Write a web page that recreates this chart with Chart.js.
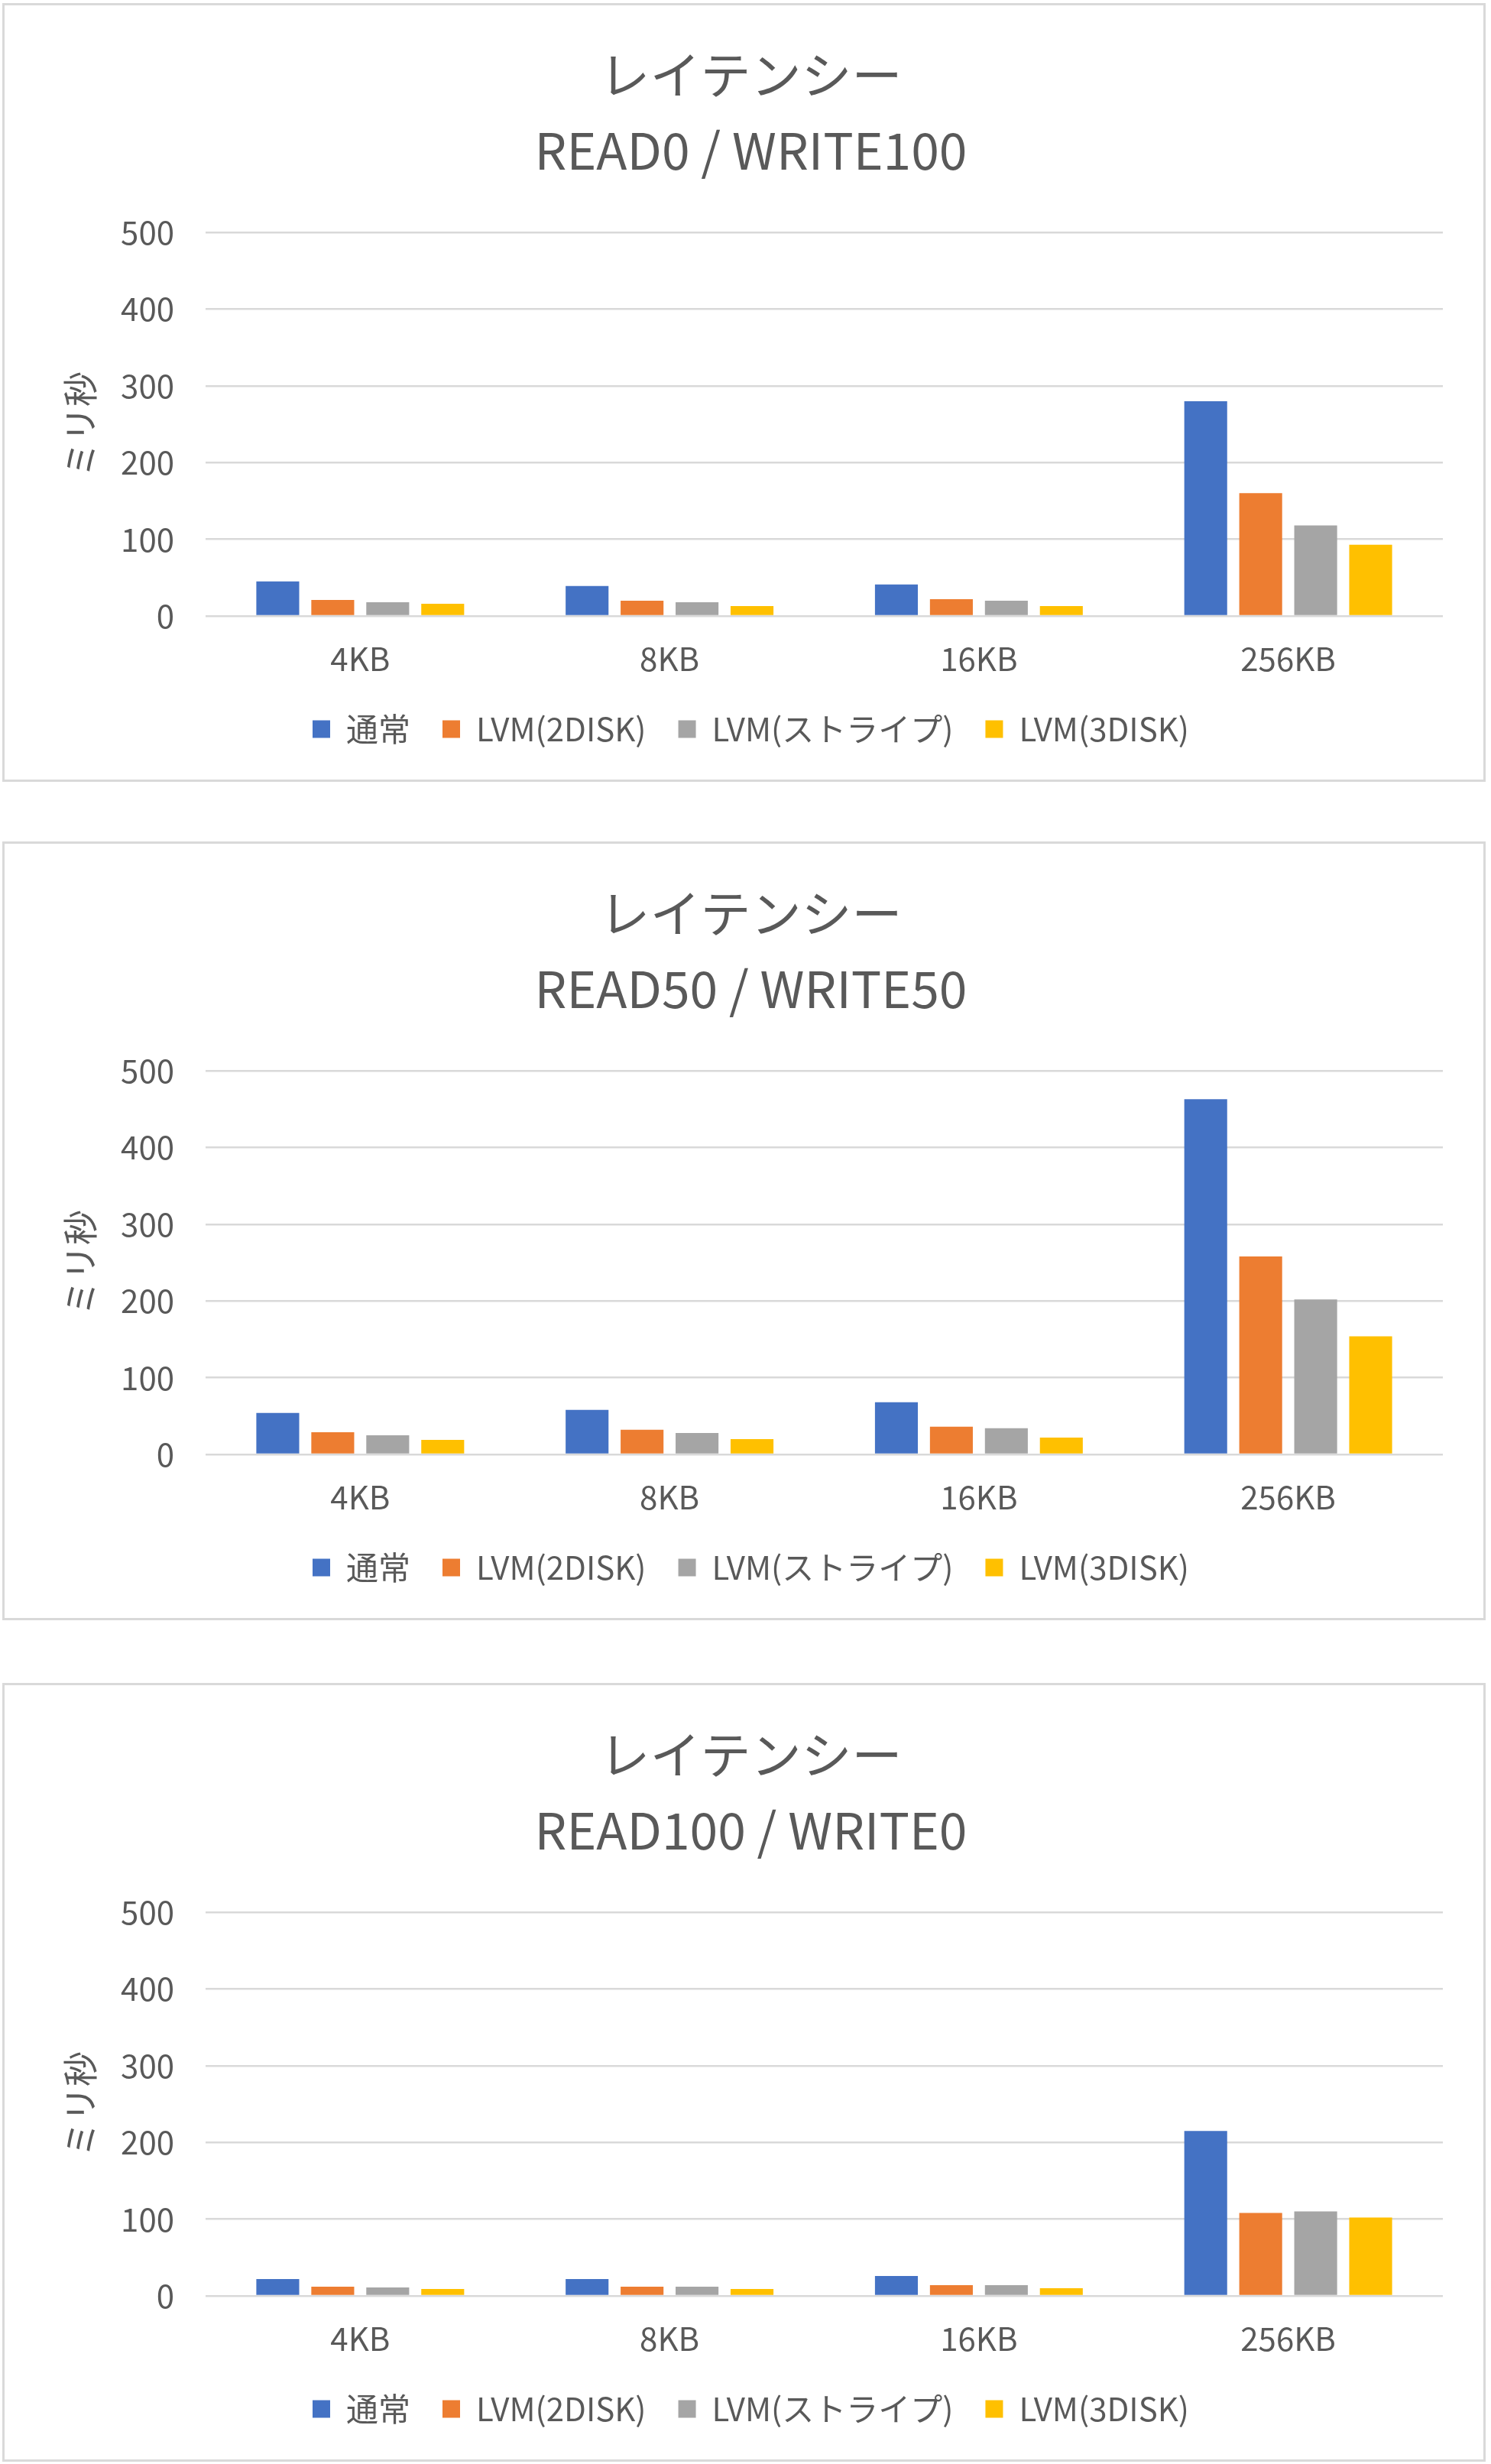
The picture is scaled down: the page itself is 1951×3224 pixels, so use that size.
<!DOCTYPE html>
<html>
<head>
<meta charset="utf-8">
<script src="https://cdn.jsdelivr.net/npm/chart.js@4"></script>
<style>
  body { margin: 0; background: #fff; width: 1951px; height: 3224px; position: relative; }
  .box { position: absolute; left: 3px; width: 1935px; height: 1013px; border: 3px solid #d9d9d9; background: #fff; }
  canvas { display: block; }
</style>
</head>
<body>
<div class="box" style="top:4px"><canvas id="c1" width="1935" height="1013"></canvas></div>
<div class="box" style="top:1101px"><canvas id="c2" width="1935" height="1013"></canvas></div>
<div class="box" style="top:2202px"><canvas id="c3" width="1935" height="1013"></canvas></div>
<script>
const blockSizes = ["4KB", "8KB", "16KB", "256KB"];
const seriesNames = ["通常", "LVM(2DISK)", "LVM(ストライプ)", "LVM(3DISK)"];
const seriesColors = ["#4472C4", "#ED7D31", "#A5A5A5", "#FFC000"];
const yTicks = [0, 100, 200, 300, 400, 500];

// READ0 / WRITE100
const w100Normal = [45, 39, 41, 280];
const w100Lvm2 = [21, 20, 22, 160];
const w100Stripe = [18, 18, 20, 118];
const w100Lvm3 = [16, 13, 13, 93];

// READ50 / WRITE50
const w50Normal = [54, 58, 68, 463];
const w50Lvm2 = [29, 32, 36, 258];
const w50Stripe = [25, 28, 34, 202];
const w50Lvm3 = [19, 20, 22, 154];

// READ100 / WRITE0
const w0Normal = [22, 22, 26, 215];
const w0Lvm2 = [12, 12, 14, 108];
const w0Stripe = [11, 12, 14, 110];
const w0Lvm3 = [9, 9, 10, 102];

const FONT = "'Noto Sans CJK JP', 'Noto Sans', sans-serif";
const TEXT = "#595959";
const GRID = "#d9d9d9";

function makeChart(id, subtitle, rows) {
  const ctx = document.getElementById(id).getContext("2d");
  new Chart(ctx, {
    type: "bar",
    data: {
      labels: blockSizes,
      datasets: rows.map((vals, i) => ({
        label: seriesNames[i],
        data: vals,
        backgroundColor: seriesColors[i],
        borderWidth: 0,
        categoryPercentage: 0.711,
        barPercentage: 0.78,
      })),
    },
    options: {
      responsive: false,
      animation: false,
      devicePixelRatio: 1,
      layout: { padding: { left: 71, right: 53, top: 0, bottom: 35 } },
      plugins: {
        title: {
          display: true,
          text: ["レイテンシー", subtitle],
          color: TEXT,
          font: { family: FONT, size: 66, weight: "normal", lineHeight: 1.5 },
          padding: { top: 41, bottom: 58 },
        },
        legend: {
          position: "bottom",
          labels: {
            color: TEXT,
            font: { family: FONT, size: 42 },
            boxWidth: 23,
            boxHeight: 23,
            padding: 42,
          },
        },
        tooltip: { enabled: false },
      },
      scales: {
        x: {
          grid: { display: false, drawTicks: false },
          border: { display: false },
          ticks: { color: TEXT, font: { family: FONT, size: 42 }, padding: 31 },
          afterFit: (s) => { s.height = 85; },
        },
        y: {
          min: 0,
          max: 500,
          afterBuildTicks: (s) => { s.ticks = yTicks.map((v) => ({ value: v })); },
          grid: { color: GRID, lineWidth: 2.5, drawTicks: false },
          border: { display: false },
          ticks: { color: TEXT, font: { family: FONT, size: 42 }, padding: 41 },
          title: {
            display: true,
            text: "ミリ秒",
            color: TEXT,
            font: { family: FONT, size: 46 },
            padding: { top: 0, bottom: 0 },
          },
          afterFit: (s) => { s.width = 192; },
        },
      },
    },
  });
}

makeChart("c1", "READ0 / WRITE100", [w100Normal, w100Lvm2, w100Stripe, w100Lvm3]);
makeChart("c2", "READ50 / WRITE50", [w50Normal, w50Lvm2, w50Stripe, w50Lvm3]);
makeChart("c3", "READ100 / WRITE0", [w0Normal, w0Lvm2, w0Stripe, w0Lvm3]);
</script>
</body>
</html>
